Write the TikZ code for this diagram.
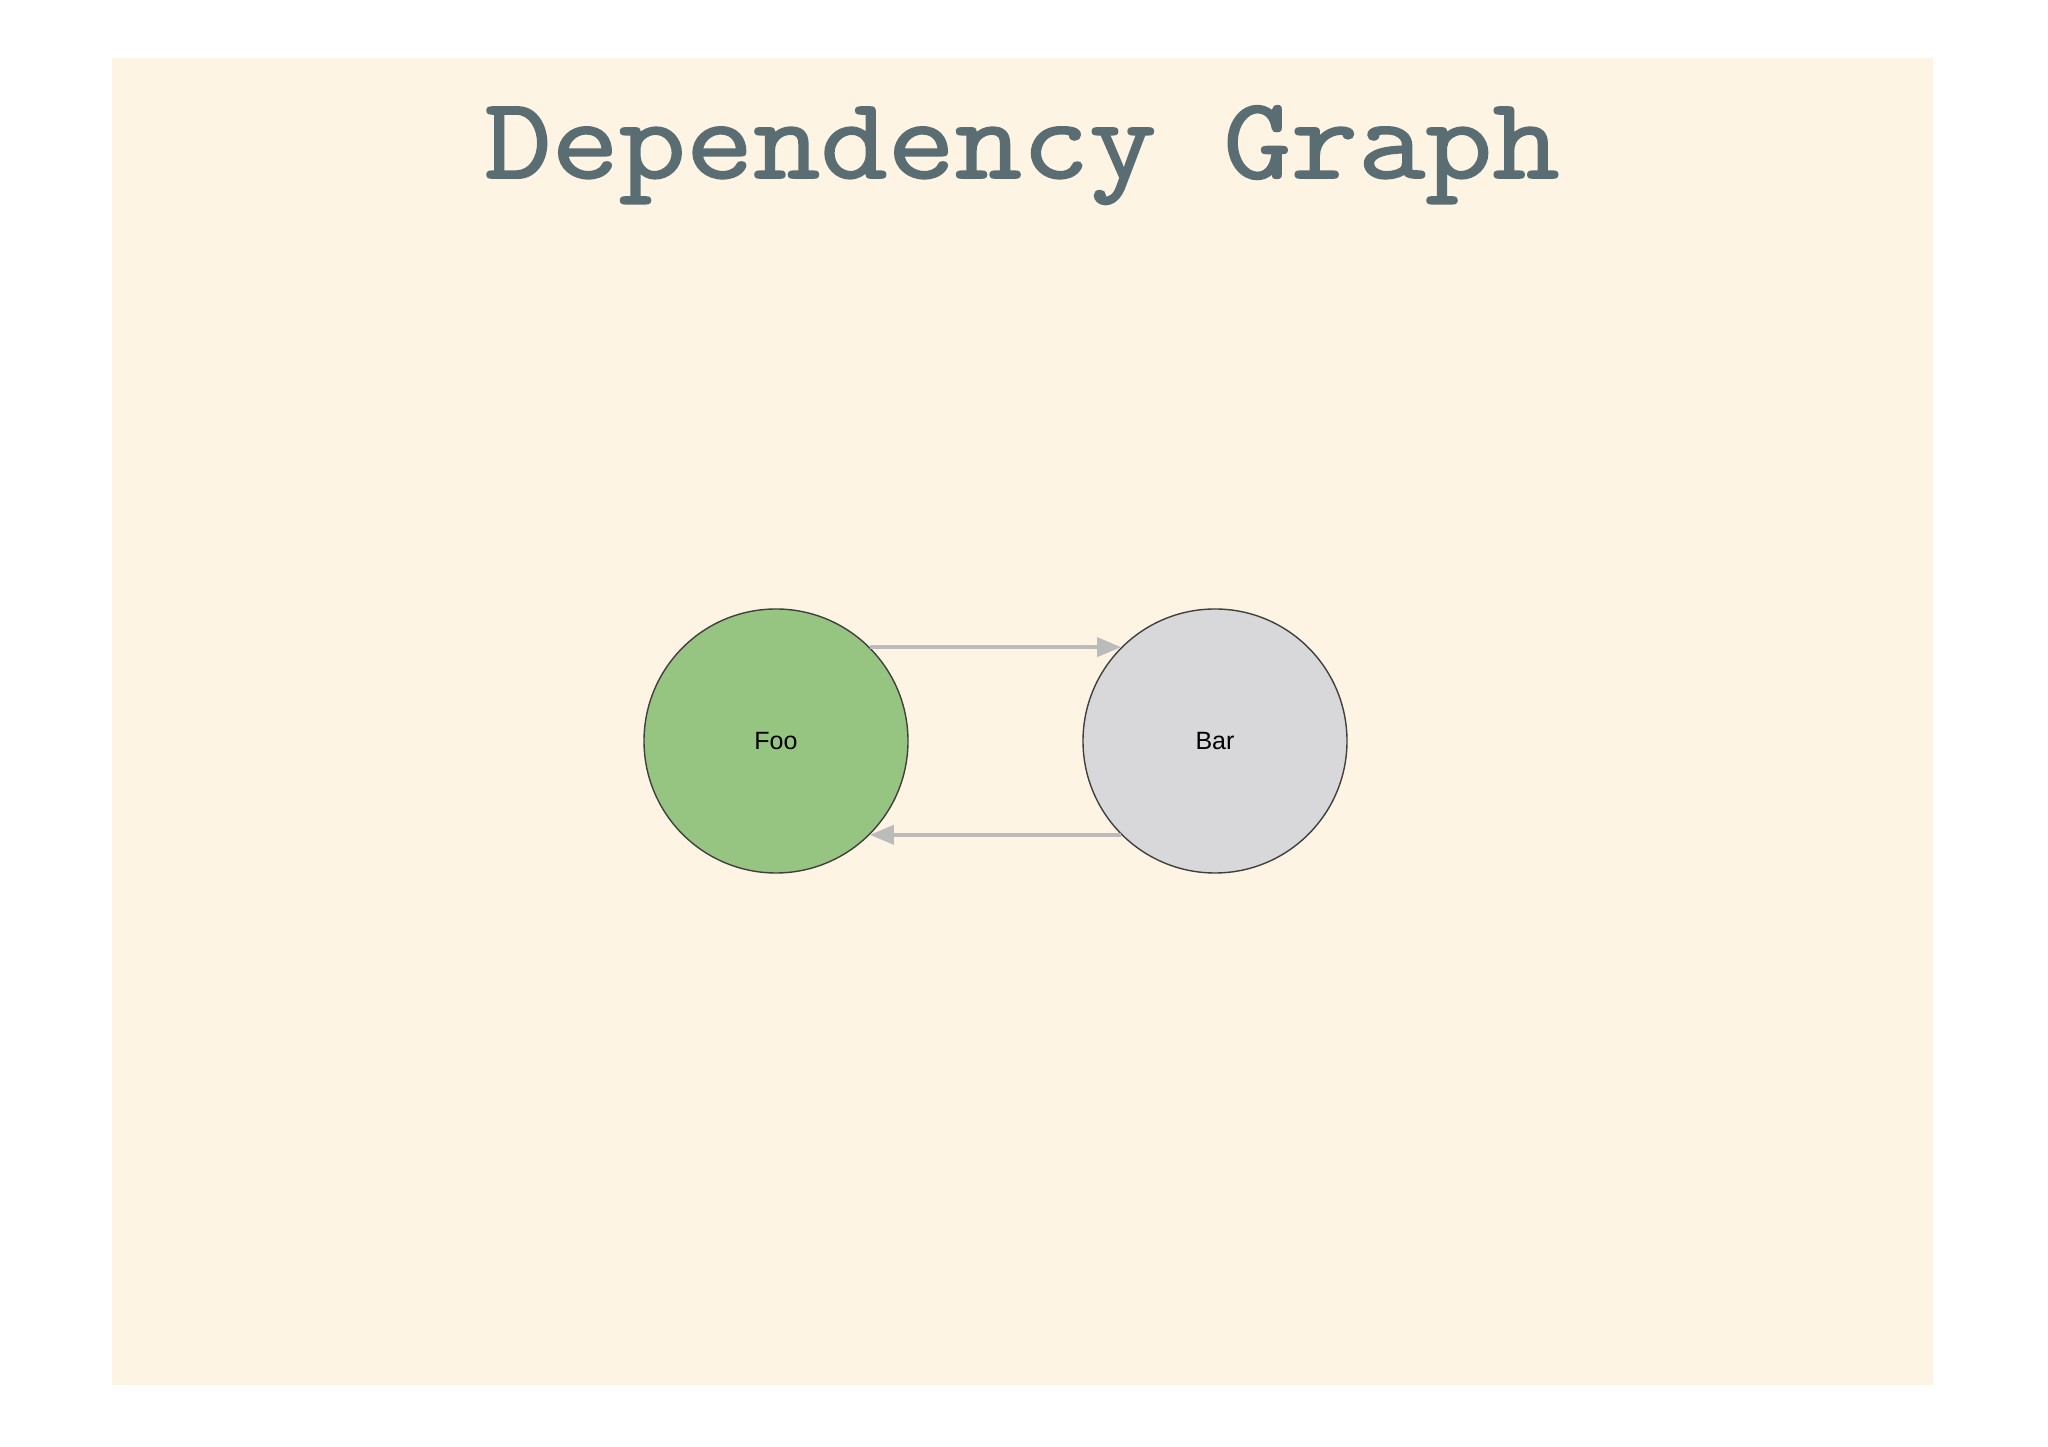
\documentclass[tikz,border=0pt]{standalone}
\usepackage{fontspec}
\setsansfont{Liberation Sans}
\newfontfamily\titlefont{Latin Modern Mono}[FakeBold=1.6,FakeStretch=1.125]
\usepackage{xcolor}
\usetikzlibrary{arrows.meta}

\definecolor{paper}{HTML}{FDF4E3}
\definecolor{titlegray}{HTML}{5A6D73}
\definecolor{foogreen}{HTML}{96C481}
\definecolor{bargray}{HTML}{D8D7DA}
\definecolor{rim}{HTML}{404040}
\definecolor{edgegray}{HTML}{BBBBBB}

\begin{document}
\begin{tikzpicture}[x=1pt,y=1pt]
\tikzset{every node/.style={font=\sffamily\fontsize{25}{30}\selectfont}}
\tikzset{module/.style={circle,draw=rim,line width=1.4pt,minimum size=264pt,inner sep=0pt}}
\tikzset{depends/.style={draw=edgegray,line width=3.5pt,-{Triangle[length=24pt,width=19pt]}}}

\useasboundingbox (0,0) rectangle (2048,1447);
\fill[paper] (112,62) rectangle (1933,1389);

\node[anchor=base,text=titlegray,font=\titlefont\fontsize{116}{130}\selectfont] (title) at (1022,1269) {Dependency Graph};

\node[module,fill=foogreen] (foo) at (776,706) {Foo};
\node[module,fill=bargray] (bar) at (1215,706) {Bar};

\draw[depends] (foo.45) -- (bar.135);
\draw[depends] (bar.-135) -- (foo.-45);

\end{tikzpicture}
\end{document}
